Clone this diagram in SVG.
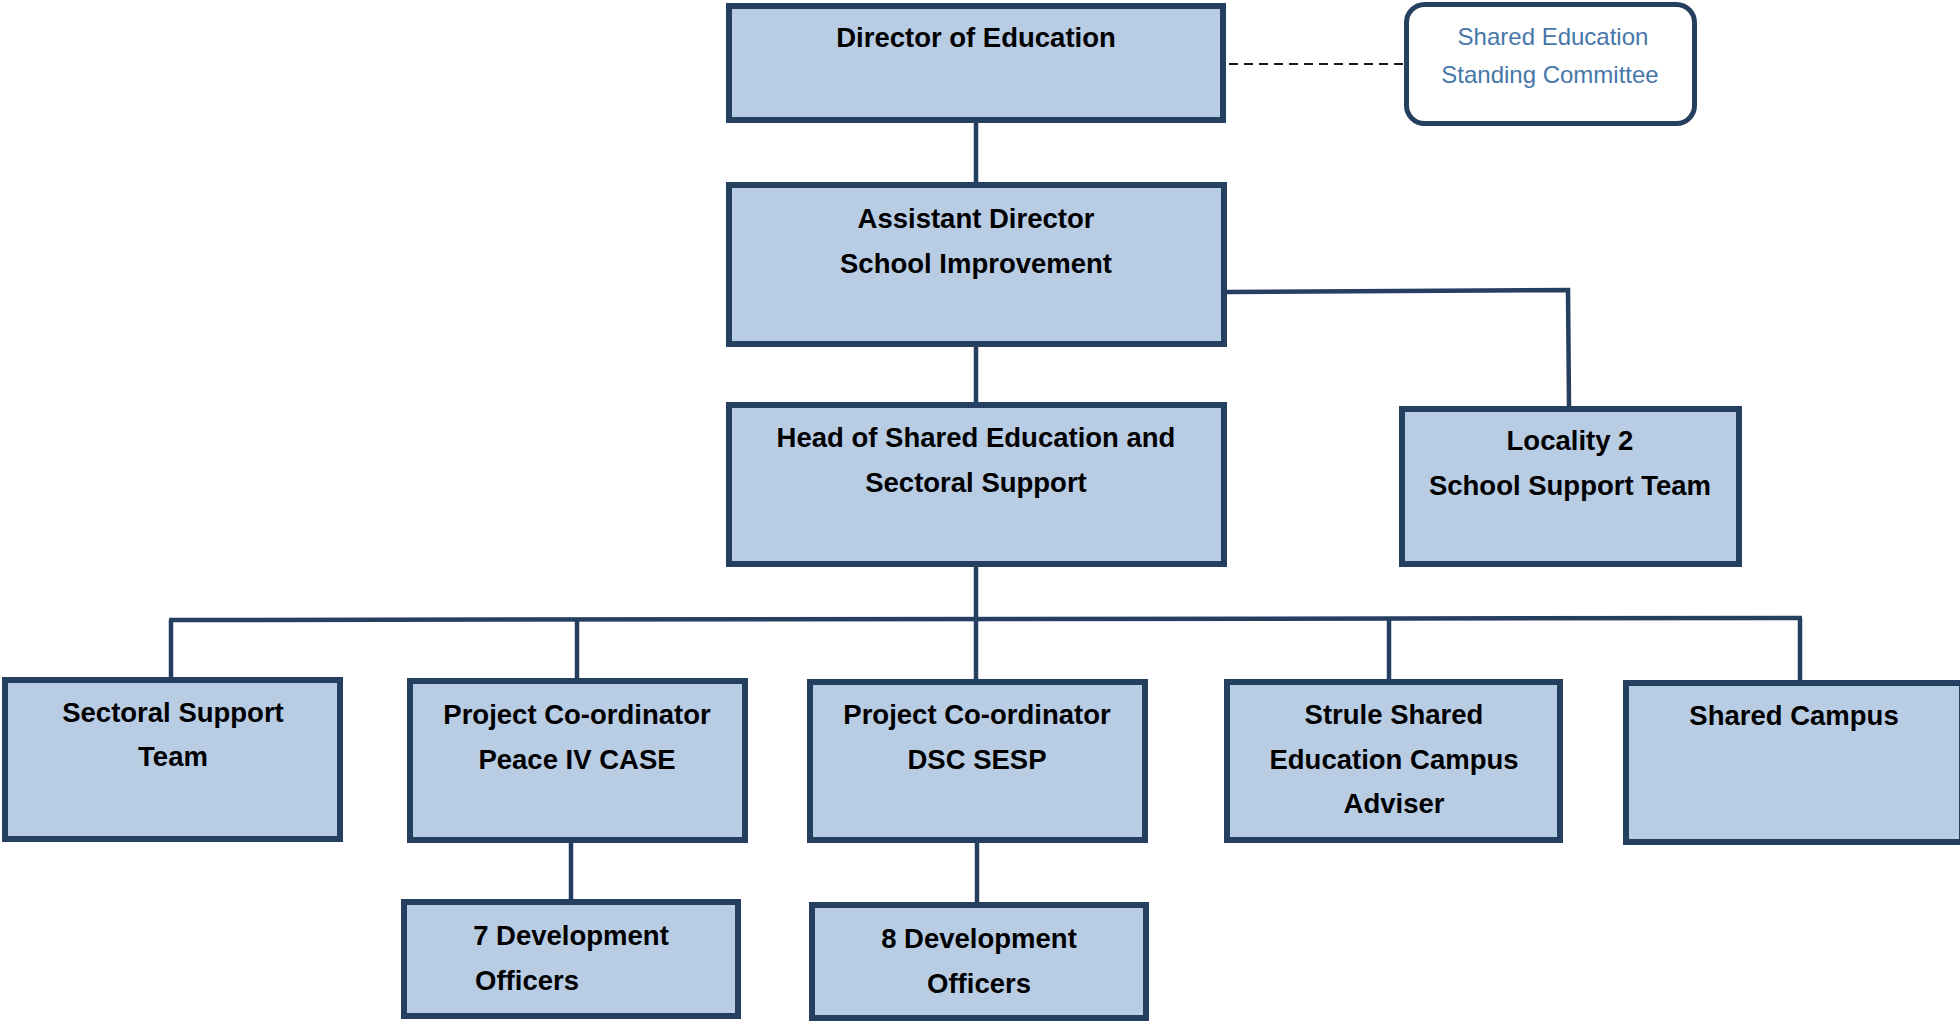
<svg xmlns="http://www.w3.org/2000/svg" width="1960" height="1022" viewBox="0 0 1960 1022">
  <style>
    .box { fill: #b8cce4; stroke: #243f60; stroke-width: 6; }
    .note { fill: #ffffff; stroke: #243f60; stroke-width: 5; }
    .lbl { font-family: "Liberation Sans", Arial, sans-serif; font-weight: bold; font-size: 27.5px; fill: #000000; text-anchor: middle; }
    .nlbl { font-family: "Liberation Sans", Arial, sans-serif; font-size: 24px; fill: #4677a8; text-anchor: middle; }
    .link { fill: none; stroke: #243f60; stroke-width: 4.5; }
    .dash { fill: none; stroke: #1a1a1a; stroke-width: 2; stroke-dasharray: 9 6; }
  </style>

  <rect width="1960" height="1022" fill="#ffffff"/>

  <!-- connectors -->
  <g id="connectors">
    <line class="dash" x1="1229" y1="64" x2="1404" y2="64"/>
    <line class="link" x1="976" y1="123" x2="976" y2="182"/>
    <polyline class="link" points="1227,292 1568,290 1569,406"/>
    <line class="link" x1="976" y1="347" x2="976" y2="402"/>
    <line class="link" x1="976" y1="567" x2="976" y2="619"/>
    <line class="link" x1="169" y1="620" x2="1802" y2="618"/>
    <line class="link" x1="171" y1="620" x2="171" y2="677"/>
    <line class="link" x1="577" y1="620" x2="577" y2="678"/>
    <line class="link" x1="976" y1="619" x2="976" y2="679"/>
    <line class="link" x1="1389" y1="619" x2="1389" y2="679"/>
    <line class="link" x1="1800" y1="618" x2="1800" y2="680"/>
    <line class="link" x1="571" y1="838" x2="571" y2="899"/>
    <line class="link" x1="977" y1="843" x2="977" y2="902"/>
  </g>

  <!-- nodes -->
  <g id="director">
    <rect class="box" x="729" y="6" width="494" height="114"/>
    <text class="lbl" x="976" y="47">Director of Education</text>
  </g>

  <g id="standing-committee">
    <rect class="note" x="1406.5" y="4.5" width="288" height="119" rx="18"/>
    <text class="nlbl" x="1553" y="45">Shared Education</text>
    <text class="nlbl" x="1550" y="83">Standing Committee</text>
  </g>

  <g id="assistant-director">
    <rect class="box" x="729" y="185" width="495" height="159"/>
    <text class="lbl" x="976" y="228">Assistant Director</text>
    <text class="lbl" x="976" y="273">School Improvement</text>
  </g>

  <g id="head-shared-education">
    <rect class="box" x="729" y="405" width="495" height="159"/>
    <text class="lbl" x="976" y="447">Head of Shared Education and</text>
    <text class="lbl" x="976" y="492">Sectoral Support</text>
  </g>

  <g id="locality-2">
    <rect class="box" x="1402" y="409" width="337" height="155"/>
    <text class="lbl" x="1570" y="450">Locality 2</text>
    <text class="lbl" x="1570" y="495">School Support Team</text>
  </g>

  <g id="sectoral-support-team">
    <rect class="box" x="5" y="680" width="335" height="159"/>
    <text class="lbl" x="173" y="722">Sectoral Support</text>
    <text class="lbl" x="173" y="766">Team</text>
  </g>

  <g id="coordinator-peace">
    <rect class="box" x="410" y="681" width="335" height="159"/>
    <text class="lbl" x="577" y="724">Project Co-ordinator</text>
    <text class="lbl" x="577" y="769">Peace IV CASE</text>
  </g>

  <g id="coordinator-dsc">
    <rect class="box" x="810" y="682" width="335" height="158"/>
    <text class="lbl" x="977" y="724">Project Co-ordinator</text>
    <text class="lbl" x="977" y="769">DSC SESP</text>
  </g>

  <g id="strule-adviser">
    <rect class="box" x="1227" y="682" width="333" height="158"/>
    <text class="lbl" x="1394" y="724">Strule Shared</text>
    <text class="lbl" x="1394" y="769">Education Campus</text>
    <text class="lbl" x="1394" y="813">Adviser</text>
  </g>

  <g id="shared-campus">
    <rect class="box" x="1626" y="683" width="336" height="159"/>
    <text class="lbl" x="1794" y="725">Shared Campus</text>
  </g>

  <g id="development-officers-7">
    <rect class="box" x="404" y="902" width="334" height="114"/>
    <text class="lbl" x="571" y="945">7 Development</text>
    <text class="lbl" x="527" y="990">Officers</text>
  </g>

  <g id="development-officers-8">
    <rect class="box" x="812" y="905" width="334" height="113"/>
    <text class="lbl" x="979" y="948">8 Development</text>
    <text class="lbl" x="979" y="993">Officers</text>
  </g>
</svg>
